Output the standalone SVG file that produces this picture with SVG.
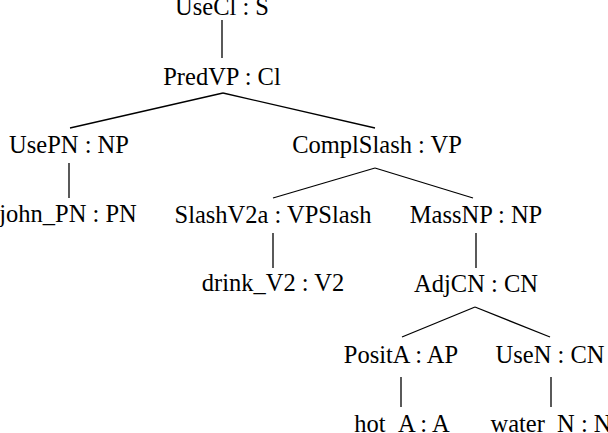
<svg xmlns="http://www.w3.org/2000/svg" width="608" height="433" viewBox="0 0 608 433">
<style>
text{font-family:"Liberation Serif","Times New Roman",serif;font-size:24.5px;fill:#000;text-anchor:middle}
.e line{stroke:#000;stroke-width:1.3;fill:none}
</style>
<rect width="608" height="433" fill="#fff"/>
<g class="e" id="connectors">
<line x1="222" y1="20" x2="222" y2="58"/>
<line x1="223" y1="93" x2="70" y2="128"/>
<line x1="223" y1="93" x2="375" y2="128"/>
<line x1="69" y1="163" x2="69" y2="198"/>
<line x1="375" y1="168" x2="273" y2="198"/>
<line x1="375" y1="168" x2="473" y2="198"/>
<line x1="273" y1="233" x2="273" y2="268"/>
<line x1="476" y1="233" x2="476" y2="268"/>
<line x1="475" y1="307" x2="402" y2="337"/>
<line x1="475" y1="307" x2="550" y2="337"/>
<line x1="401" y1="377" x2="401" y2="407"/>
<line x1="551" y1="377" x2="551" y2="407"/>
</g>
<g id="n-usecl"><text x="222" y="15">UseCl : S</text></g>
<g id="n-predvp"><text x="222" y="85">PredVP : Cl</text></g>
<g id="n-usepn"><text x="69" y="153">UsePN : NP</text></g>
<g id="n-complslash"><text x="377" y="153">ComplSlash : VP</text></g>
<g id="n-john"><text x="68" y="222">john_PN : PN</text></g>
<g id="n-slashv2a"><text x="273" y="223">SlashV2a : VPSlash</text></g>
<g id="n-massnp"><text x="476" y="223">MassNP : NP</text></g>
<g id="n-drink"><text x="273" y="291">drink_V2 : V2</text></g>
<g id="n-adjcn"><text x="476" y="292">AdjCN : CN</text></g>
<g id="n-posita"><text x="401" y="363">PositA : AP</text></g>
<g id="n-usen"><text x="550" y="363">UseN : CN</text></g>
<g id="n-hot"><text x="402" y="432">hot_A : A</text></g>
<g id="n-water"><text x="551" y="432">water_N : N</text></g>
</svg>
